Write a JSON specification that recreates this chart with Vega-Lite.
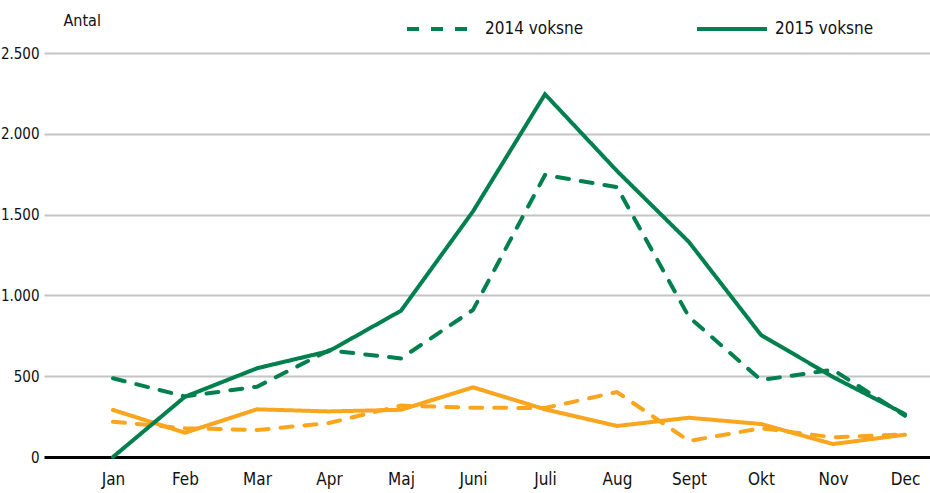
{
  "$schema": "https://vega.github.io/schema/vega-lite/v6.json",
  "width": 886,
  "height": 404,
  "autosize": "none",
  "padding": {"left": 44, "top": 53, "right": 0, "bottom": 36},
  "config": {
    "view": {"stroke": null},
    "font": "DejaVu Sans Condensed"
  },
  "data": {
    "values": [
      {"nr": 1, "maaned": "Jan", "serie": "2014 børn", "antal": 218},
      {"nr": 2, "maaned": "Feb", "serie": "2014 børn", "antal": 178},
      {"nr": 3, "maaned": "Mar", "serie": "2014 børn", "antal": 167},
      {"nr": 4, "maaned": "Apr", "serie": "2014 børn", "antal": 210},
      {"nr": 5, "maaned": "Maj", "serie": "2014 børn", "antal": 318},
      {"nr": 6, "maaned": "Juni", "serie": "2014 børn", "antal": 305},
      {"nr": 7, "maaned": "Juli", "serie": "2014 børn", "antal": 303},
      {"nr": 8, "maaned": "Aug", "serie": "2014 børn", "antal": 402},
      {"nr": 9, "maaned": "Sept", "serie": "2014 børn", "antal": 99},
      {"nr": 10, "maaned": "Okt", "serie": "2014 børn", "antal": 178},
      {"nr": 11, "maaned": "Nov", "serie": "2014 børn", "antal": 122},
      {"nr": 12, "maaned": "Dec", "serie": "2014 børn", "antal": 140},
      {"nr": 1, "maaned": "Jan", "serie": "2015 børn", "antal": 291},
      {"nr": 2, "maaned": "Feb", "serie": "2015 børn", "antal": 150},
      {"nr": 3, "maaned": "Mar", "serie": "2015 børn", "antal": 295},
      {"nr": 4, "maaned": "Apr", "serie": "2015 børn", "antal": 282},
      {"nr": 5, "maaned": "Maj", "serie": "2015 børn", "antal": 292},
      {"nr": 6, "maaned": "Juni", "serie": "2015 børn", "antal": 431},
      {"nr": 7, "maaned": "Juli", "serie": "2015 børn", "antal": 295},
      {"nr": 8, "maaned": "Aug", "serie": "2015 børn", "antal": 192},
      {"nr": 9, "maaned": "Sept", "serie": "2015 børn", "antal": 243},
      {"nr": 10, "maaned": "Okt", "serie": "2015 børn", "antal": 204},
      {"nr": 11, "maaned": "Nov", "serie": "2015 børn", "antal": 80},
      {"nr": 12, "maaned": "Dec", "serie": "2015 børn", "antal": 138},
      {"nr": 1, "maaned": "Jan", "serie": "2014 voksne", "antal": 487},
      {"nr": 2, "maaned": "Feb", "serie": "2014 voksne", "antal": 375},
      {"nr": 3, "maaned": "Mar", "serie": "2014 voksne", "antal": 435},
      {"nr": 4, "maaned": "Apr", "serie": "2014 voksne", "antal": 660},
      {"nr": 5, "maaned": "Maj", "serie": "2014 voksne", "antal": 610},
      {"nr": 6, "maaned": "Juni", "serie": "2014 voksne", "antal": 910},
      {"nr": 7, "maaned": "Juli", "serie": "2014 voksne", "antal": 1745},
      {"nr": 8, "maaned": "Aug", "serie": "2014 voksne", "antal": 1670},
      {"nr": 9, "maaned": "Sept", "serie": "2014 voksne", "antal": 866},
      {"nr": 10, "maaned": "Okt", "serie": "2014 voksne", "antal": 476},
      {"nr": 11, "maaned": "Nov", "serie": "2014 voksne", "antal": 540},
      {"nr": 12, "maaned": "Dec", "serie": "2014 voksne", "antal": 255},
      {"nr": 1, "maaned": "Jan", "serie": "2015 voksne", "antal": 0},
      {"nr": 2, "maaned": "Feb", "serie": "2015 voksne", "antal": 373},
      {"nr": 3, "maaned": "Mar", "serie": "2015 voksne", "antal": 549},
      {"nr": 4, "maaned": "Apr", "serie": "2015 voksne", "antal": 655},
      {"nr": 5, "maaned": "Maj", "serie": "2015 voksne", "antal": 905},
      {"nr": 6, "maaned": "Juni", "serie": "2015 voksne", "antal": 1520},
      {"nr": 7, "maaned": "Juli", "serie": "2015 voksne", "antal": 2245},
      {"nr": 8, "maaned": "Aug", "serie": "2015 voksne", "antal": 1770},
      {"nr": 9, "maaned": "Sept", "serie": "2015 voksne", "antal": 1330},
      {"nr": 10, "maaned": "Okt", "serie": "2015 voksne", "antal": 755},
      {"nr": 11, "maaned": "Nov", "serie": "2015 voksne", "antal": 495},
      {"nr": 12, "maaned": "Dec", "serie": "2015 voksne", "antal": 265}
    ]
  },
  "mark": {"type": "line", "strokeWidth": 4, "strokeCap": "round", "strokeJoin": "miter"},
  "encoding": {
    "x": {
      "field": "nr",
      "type": "quantitative",
      "scale": {"domain": [0.042, 12.347], "nice": false, "zero": false},
      "axis": {
        "title": null,
        "values": [1, 2, 3, 4, 5, 6, 7, 8, 9, 10, 11, 12],
        "labelExpr": "['Jan','Feb','Mar','Apr','Maj','Juni','Juli','Aug','Sept','Okt','Nov','Dec'][datum.value - 1]",
        "grid": false,
        "domain": false,
        "ticks": false,
        "labelAngle": 0,
        "labelFontSize": 17,
        "labelColor": "#111111",
        "labelPadding": 14,
        "labelFlush": false,
        "labelOverlap": false
      }
    },
    "y": {
      "field": "antal",
      "type": "quantitative",
      "scale": {"domain": [0, 2500], "nice": false},
      "axis": {
        "values": [0, 500, 1000, 1500, 2000, 2500],
        "title": "Antal",
        "titleAngle": 0,
        "titleAlign": "left",
        "titleBaseline": "middle",
        "titleX": 19,
        "titleY": -33,
        "titleFontSize": 16,
        "titleFontWeight": "normal",
        "titleColor": "#111111",
        "domain": false,
        "ticks": false,
        "labelFontSize": 15,
        "labelColor": "#111111",
        "labelPadding": 5,
        "labelExpr": "replace(format(datum.value, ',d'), ',', '.')",
        "grid": true,
        "gridColor": {"condition": {"test": "datum.value === 0", "value": "#000000"}, "value": "#c4c4c4"},
        "gridWidth": {"condition": {"test": "datum.value === 0", "value": 3}, "value": 2},
        "gridOpacity": 1
      }
    },
    "color": {
      "field": "serie",
      "type": "nominal",
      "scale": {
        "domain": ["2014 voksne", "2015 voksne", "2014 børn", "2015 børn"],
        "range": ["#007f4f", "#007f4f", "#f9a61e", "#f9a61e"]
      },
      "legend": {
        "title": null,
        "orient": "none",
        "direction": "horizontal",
        "legendX": 361,
        "legendY": -61,
        "values": ["2014 voksne", "2015 voksne"],
        "symbolType": "stroke",
        "symbolSize": 4900,
        "symbolStrokeWidth": 4,
        "labelFontSize": 17,
        "labelColor": "#111111",
        "labelOffset": 6,
        "columnPadding": 105
      }
    },
    "strokeDash": {
      "field": "serie",
      "type": "nominal",
      "scale": {
        "domain": ["2014 voksne", "2015 voksne", "2014 børn", "2015 børn"],
        "range": [[12, 12], [1, 0], [12, 12], [1, 0]]
      },
      "legend": {
        "title": null,
        "orient": "none",
        "direction": "horizontal",
        "legendX": 361,
        "legendY": -61,
        "values": ["2014 voksne", "2015 voksne"],
        "symbolType": "stroke",
        "symbolSize": 4900,
        "symbolStrokeWidth": 4,
        "labelFontSize": 17,
        "labelColor": "#111111",
        "labelOffset": 6,
        "columnPadding": 105
      }
    }
  }
}
